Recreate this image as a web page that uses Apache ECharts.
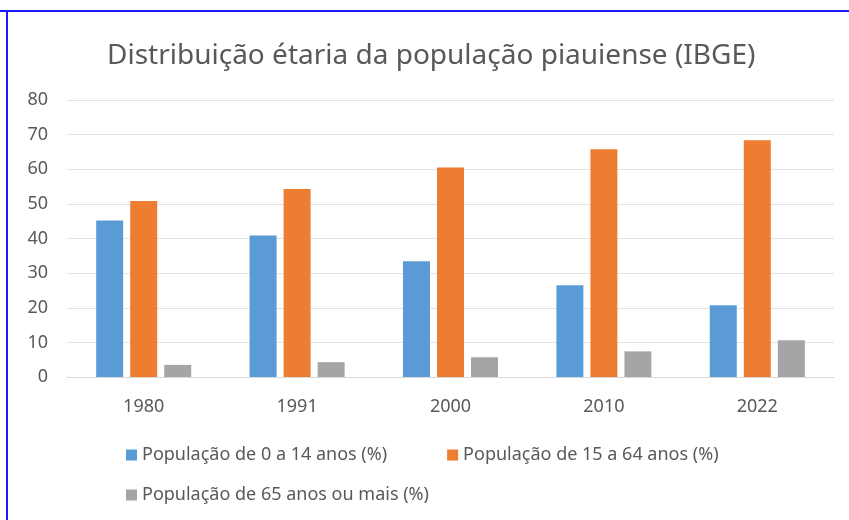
<!DOCTYPE html>
<html>
<head>
<meta charset="utf-8">
<script src="https://cdn.jsdelivr.net/npm/echarts@6/dist/echarts.min.js"></script>
<style>
  html, body { margin: 0; padding: 0; background: #fff; }
  #chart { width: 849px; height: 520px; }
</style>
</head>
<body>
<div id="chart"></div>
<script>
// dados (IBGE)
var anos = ['1980', '1991', '2000', '2010', '2022'];
var pop0a14 = [45.2, 40.9, 33.4, 26.5, 20.7];
var pop15a64 = [50.8, 54.3, 60.5, 65.8, 68.4];
var pop65mais = [3.5, 4.3, 5.7, 7.4, 10.6];
var nomes = ['População de 0 a 14 anos (%)', 'População de 15 a 64 anos (%)', 'População de 65 anos ou mais (%)'];
var ticksY = [0, 80, 10];

var myChart = echarts.init(document.getElementById('chart'));

var fonte = 'Noto Sans';
var cinzaTexto = '#595959';

var option = {
    title: {
        text: 'Distribuição étaria da população piauiense (IBGE)',
        left: 102,
        top: 37,
        textStyle: { fontFamily: fonte, fontSize: 28, fontWeight: 'normal', color: cinzaTexto }
    },
    graphic: [
        { type: 'line', shape: { x1: 0, y1: 11, x2: 849, y2: 11 }, style: { stroke: '#1a1aff', lineWidth: 2 } },
        { type: 'line', shape: { x1: 7, y1: 11, x2: 7, y2: 520 }, style: { stroke: '#1a1aff', lineWidth: 2 } }
    ],
    legend: [
        {
            data: [nomes[0], nomes[1]],
            left: 121, top: 441,
            itemWidth: 11, itemHeight: 11, itemGap: 60,
            icon: 'rect',
            textStyle: { fontFamily: fonte, fontSize: 18, color: cinzaTexto }
        },
        {
            data: [nomes[2]],
            left: 121, top: 481,
            itemWidth: 11, itemHeight: 11,
            icon: 'rect',
            textStyle: { fontFamily: fonte, fontSize: 18, color: cinzaTexto }
        }
    ],
    grid: { left: 67, right: 15, top: 100, bottom: 143, containLabel: false },
    xAxis: {
        type: 'category',
        data: anos,
        axisLine: { lineStyle: { color: '#d9d9d9' } },
        axisTick: { show: false },
        axisLabel: { fontFamily: fonte, fontSize: 18, color: cinzaTexto, margin: 21 }
    },
    yAxis: {
        type: 'value',
        min: ticksY[0], max: ticksY[1], interval: ticksY[2],
        axisLine: { show: false },
        axisTick: { show: false },
        splitLine: { lineStyle: { color: '#e3e3e3', width: 1 } },
        axisLabel: { fontFamily: fonte, fontSize: 18, color: cinzaTexto, margin: 19 }
    },
    series: [
        { name: nomes[0], type: 'bar', data: pop0a14, barWidth: 27, barGap: '26%',
          itemStyle: { color: '#5B9BD5' } },
        { name: nomes[1], type: 'bar', data: pop15a64, barWidth: 27, barGap: '26%',
          itemStyle: { color: '#ED7D31' } },
        { name: nomes[2], type: 'bar', data: pop65mais, barWidth: 27, barGap: '26%',
          itemStyle: { color: '#A5A5A5' } }
    ]
};

myChart.setOption(option);
</script>
</body>
</html>
